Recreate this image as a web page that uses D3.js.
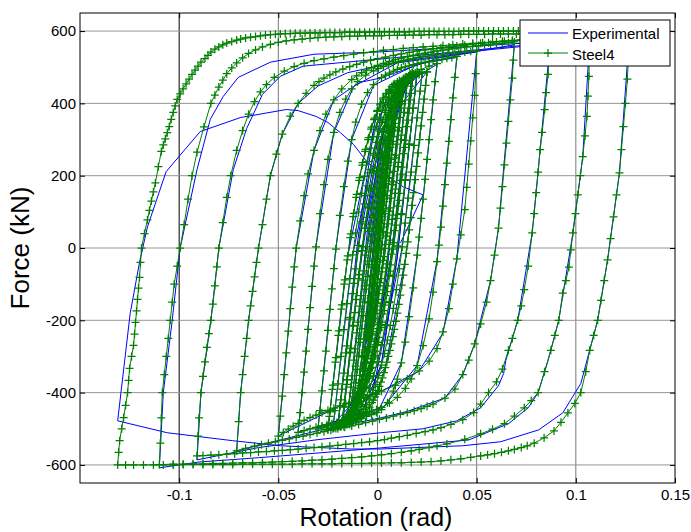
<!DOCTYPE html>
<html>
<head>
<meta charset="utf-8">
<script src="https://d3js.org/d3.v7.min.js"></script>
<style>
  body { margin: 0; background: #fff; }
  text { font-family: Arial, "Liberation Sans", sans-serif; }
</style>
</head>
<body>
<svg id="plot" width="691" height="532"></svg>
<script>
// tick values
const rotationTicks = [-0.1, -0.05, 0, 0.05, 0.1, 0.15];
const forceTicks = [-600, -400, -200, 0, 200, 400, 600];

// Steel4 model, one array per amplitude group, [rotation (rad), force (kN)]
const steel4Cyc005 = [[0,0],[0.001,50],[0.002,100],[0.003,148],[0.004,196],[0.005,243],
  [0.004,193],[0.003,143],[0.002,93],[0.001,43],[0,-7],[-0.001,-57],[-0.002,-106],[-0.003,-154],[-0.004,-200],[-0.005,-245],
  [-0.004,-195],[-0.003,-145],[-0.002,-95],[-0.001,-45],[0,5],[0.001,55],[0.002,104],[0.003,152],[0.004,200],[0.005,248],
  [0.004,198],[0.003,148],[0.002,98],[0.001,48],[0,-2],[-0.001,-52],[-0.002,-102],[-0.003,-151],[-0.004,-200],[-0.005,-248]];
const steel4Cyc0075 = [[-0.004,-198],[-0.003,-148],[-0.002,-98],[-0.001,-48],[0,2],[0.001,52],[0.002,101],[0.003,149],[0.004,195],[0.005,238],[0.006,278],[0.007,312],[0.0075,328],
  [0.0065,278],[0.0055,228],[0.0045,178],[0.0035,128],[0.0025,78],[0.0015,28],[0.0005,-22],[-0.0005,-72],[-0.0015,-121],[-0.0025,-168],[-0.0035,-213],[-0.0045,-254],[-0.0055,-290],[-0.0065,-317],[-0.0075,-332],
  [-0.0065,-282],[-0.0055,-232],[-0.0045,-182],[-0.0035,-132],[-0.0025,-82],[-0.0015,-32],[-0.0005,18],[0.0005,68],[0.0015,117],[0.0025,165],[0.0035,210],[0.0045,252],[0.0055,289],[0.0065,318],[0.0075,336],
  [0.0065,286],[0.0055,236],[0.0045,186],[0.0035,136],[0.0025,86],[0.0015,36],[0.0005,-14],[-0.0005,-64],[-0.0015,-114],[-0.0025,-162],[-0.0035,-208],[-0.0045,-250],[-0.0055,-288],[-0.0065,-318],[-0.0075,-338]];
const steel4Cyc010 = [[-0.0065,-288],[-0.0055,-238],[-0.0045,-188],[-0.0035,-138],[-0.0025,-88],[-0.0015,-38],[-0.0005,12],[0.0005,61],[0.0015,109],[0.0025,155],[0.0035,198],[0.0045,238],[0.0055,274],[0.0065,306],[0.0075,334],[0.0085,360],[0.01,395],
  [0.009,345],[0.008,295],[0.007,245],[0.006,195],[0.005,145],[0.004,95],[0.003,45],[0.002,-5],[0.001,-55],[0,-104],[-0.001,-151],[-0.002,-196],[-0.003,-237],[-0.004,-273],[-0.005,-305],[-0.006,-332],[-0.007,-355],[-0.008,-374],[-0.009,-389],[-0.01,-402],
  [-0.009,-352],[-0.008,-302],[-0.007,-252],[-0.006,-202],[-0.005,-152],[-0.004,-102],[-0.003,-52],[-0.002,-3],[-0.001,45],[0,92],[0.001,137],[0.002,180],[0.003,220],[0.004,256],[0.005,289],[0.006,318],[0.007,343],[0.008,366],[0.009,388],[0.01,408],
  [0.009,358],[0.008,308],[0.007,258],[0.006,208],[0.005,158],[0.004,108],[0.003,58],[0.002,9],[0.001,-39],[0,-86],[-0.001,-131],[-0.002,-174],[-0.003,-214],[-0.004,-251],[-0.005,-285],[-0.006,-315],[-0.007,-341],[-0.008,-364],[-0.009,-387],[-0.01,-410]];
const steel4Cyc0125 = [[-0.00925,-373],[-0.00775,-298],[-0.00625,-223],[-0.00475,-149],[-0.00325,-76],[-0.00175,-7],[-0.00025,60],[0.00125,122],[0.00275,180],[0.00425,233],[0.00575,280],[0.00725,322],[0.00875,360],[0.01025,393],[0.0115,418],[0.0125,436],
  [0.01175,399],[0.01025,324],[0.00875,249],[0.00725,175],[0.00575,102],[0.00425,33],[0.00275,-34],[0.00125,-96],[-0.00025,-154],[-0.00175,-207],[-0.00325,-254],[-0.00475,-296],[-0.00625,-334],[-0.00775,-367],[-0.00925,-396],[-0.01075,-426],[-0.0125,-448],
  [-0.01175,-411],[-0.01025,-336],[-0.00875,-261],[-0.00725,-187],[-0.00575,-114],[-0.00425,-45],[-0.00275,22],[-0.00125,84],[0.00025,142],[0.00175,195],[0.00325,242],[0.00475,284],[0.00625,322],[0.00775,355],[0.00925,384],[0.01075,414],[0.0125,436],
  [0.011,361],[0.0095,287],[0.008,212],[0.0065,138],[0.005,67],[0.0035,-1],[0.002,-66],[0.0005,-126],[-0.001,-181],[-0.0025,-231],[-0.004,-276],[-0.0055,-316],[-0.007,-351],[-0.0085,-382],[-0.01,-410],[-0.0115,-434],[-0.0125,-448]];
const steel4Cyc015 = [[-0.011,-373],[-0.0095,-299],[-0.008,-224],[-0.0065,-150],[-0.005,-79],[-0.0035,-11],[-0.002,54],[-0.0005,114],[0.001,169],[0.0025,219],[0.004,264],[0.0055,304],[0.007,339],[0.0085,370],[0.01,398],[0.0115,422],[0.013,441],[0.015,458],
  [0.0135,375],[0.012,300],[0.0105,225],[0.009,151],[0.0075,79],[0.006,10],[0.0045,-55],[0.003,-116],[0.0015,-172],[0,-223],[-0.0015,-268],[-0.003,-307],[-0.0045,-340],[-0.006,-368],[-0.0075,-392],[-0.009,-413],[-0.0105,-430],[-0.012,-443],[-0.0135,-453],[-0.015,-460],
  [-0.0135,-385],[-0.012,-310],[-0.0105,-235],[-0.009,-161],[-0.0075,-89],[-0.006,-20],[-0.0045,46],[-0.003,107],[-0.0015,163],[0,214],[0.0015,259],[0.003,298],[0.0045,332],[0.006,361],[0.0075,386],[0.009,407],[0.0105,425],[0.012,440],[0.0135,452],[0.015,462],
  [0.0135,387],[0.012,312],[0.0105,237],[0.009,163],[0.0075,91],[0.006,22],[0.0045,-44],[0.003,-105],[0.0015,-161],[0,-212],[-0.0015,-258],[-0.003,-298],[-0.0045,-333],[-0.006,-363],[-0.0075,-389],[-0.009,-411],[-0.0105,-429],[-0.012,-444],[-0.0135,-456],[-0.015,-466]];
const steel4Cyc0175 = [[-0.01425,-429],[-0.01275,-354],[-0.01125,-279],[-0.00975,-205],[-0.00825,-132],[-0.00675,-63],[-0.00525,4],[-0.00375,66],[-0.00225,124],[-0.00075,177],[0.00075,224],[0.00225,266],[0.00375,304],[0.00525,337],[0.00675,366],[0.00825,396],[0.01,422],[0.012,442],[0.014,461],[0.016,476],[0.0175,485],
  [0.016,410],[0.0145,336],[0.013,261],[0.0115,187],[0.01,116],[0.0085,48],[0.007,-17],[0.0055,-77],[0.004,-132],[0.0025,-182],[0.001,-227],[-0.0005,-267],[-0.002,-302],[-0.0035,-333],[-0.005,-361],[-0.0065,-385],[-0.008,-406],[-0.0095,-423],[-0.011,-438],[-0.0125,-450],[-0.014,-461],[-0.0155,-470],[-0.0175,-477],
  [-0.01675,-440],[-0.01525,-365],[-0.01375,-290],[-0.01225,-216],[-0.01075,-143],[-0.00925,-74],[-0.00775,-7],[-0.00625,55],[-0.00475,113],[-0.00325,166],[-0.00175,213],[-0.00025,255],[0.00125,293],[0.00275,326],[0.00425,355],[0.00575,381],[0.00725,404],[0.00875,422],[0.01025,438],[0.01175,452],[0.01325,463],[0.01475,473],[0.01625,480],[0.0175,485],
  [0.01675,448],[0.01525,373],[0.01375,298],[0.01225,224],[0.01075,151],[0.00925,82],[0.00775,15],[0.00625,-47],[0.00475,-105],[0.00325,-158],[0.00175,-205],[0.00025,-247],[-0.00125,-285],[-0.00275,-318],[-0.00425,-347],[-0.00575,-373],[-0.00725,-396],[-0.00875,-414],[-0.01025,-430],[-0.01175,-444],[-0.01325,-455],[-0.01475,-465],[-0.01625,-472],[-0.0175,-477]];
const steel4Cyc020 = [[-0.0155,-377],[-0.0135,-277],[-0.0115,-179],[-0.0095,-85],[-0.0075,4],[-0.0055,85],[-0.0035,158],[-0.0015,221],[0.0005,275],[0.0025,321],[0.0045,360],[0.0065,393],[0.0085,420],[0.0105,441],[0.0125,458],[0.0145,471],[0.0165,481],[0.02,487],
  [0.018,387],[0.016,287],[0.014,187],[0.012,92],[0.010,3],[0.008,-78],[0.006,-151],[0.004,-215],[0.002,-269],[0,-315],[-0.002,-355],[-0.004,-388],[-0.006,-414],[-0.008,-434],[-0.010,-450],[-0.012,-463],[-0.014,-472],[-0.016,-480],[-0.018,-485],[-0.02,-490],
  [-0.018,-390],[-0.016,-290],[-0.014,-192],[-0.012,-98],[-0.010,-9],[-0.008,72],[-0.006,145],[-0.004,208],[-0.002,262],[0,308],[0.002,347],[0.004,380],[0.006,407],[0.008,428],[0.010,445],[0.012,458],[0.014,468],[0.016,476],[0.018,482],[0.02,487],
  [0.018,387],[0.016,287],[0.014,189],[0.012,95],[0.010,6],[0.008,-75],[0.006,-148],[0.004,-212],[0.002,-267],[0,-314],[-0.002,-354],[-0.004,-388],[-0.006,-416],[-0.008,-438],[-0.010,-455],[-0.012,-468],[-0.014,-477],[-0.016,-484],[-0.018,-490],[-0.02,-495]];
const steel4Cyc025 = [[-0.0185,-420],[-0.017,-346],[-0.0155,-271],[-0.014,-197],[-0.0125,-126],[-0.011,-58],[-0.0095,7],[-0.008,67],[-0.0065,122],[-0.005,172],[-0.0035,217],[-0.002,257],[-0.0005,292],[0.001,323],[0.0025,351],[0.004,375],[0.0055,396],[0.007,413],[0.009,432],[0.011,446],[0.013,457],[0.015,465],[0.018,473],[0.021,480],[0.025,487],
  [0.0235,412],[0.022,338],[0.0205,263],[0.019,189],[0.0175,118],[0.016,50],[0.0145,-15],[0.013,-75],[0.0115,-130],[0.010,-180],[0.0085,-225],[0.007,-265],[0.0055,-300],[0.004,-331],[0.0025,-359],[0.001,-383],[-0.0005,-404],[-0.002,-421],[-0.004,-440],[-0.006,-454],[-0.008,-465],[-0.010,-473],[-0.013,-481],[-0.016,-487],[-0.019,-493],[-0.022,-498],[-0.025,-503],
  [-0.02425,-466],[-0.02275,-391],[-0.02125,-316],[-0.01975,-242],[-0.01825,-169],[-0.01675,-100],[-0.01525,-33],[-0.01375,29],[-0.01225,87],[-0.01075,140],[-0.00925,187],[-0.00775,229],[-0.00625,267],[-0.00475,300],[-0.00325,329],[-0.00175,355],[-0.00025,378],[0.00125,396],[0.00275,412],[0.00425,426],[0.00575,437],[0.00725,447],[0.00875,454],[0.011,463],[0.014,472],[0.017,478],[0.021,483],[0.025,487],
  [0.02425,450],[0.02275,375],[0.02125,300],[0.01975,226],[0.01825,153],[0.01675,84],[0.01525,17],[0.01375,-45],[0.01225,-103],[0.01075,-156],[0.00925,-203],[0.00775,-245],[0.00625,-283],[0.00475,-316],[0.00325,-345],[0.00175,-371],[0.00025,-394],[-0.00125,-412],[-0.00275,-428],[-0.00425,-442],[-0.00575,-453],[-0.00725,-463],[-0.00875,-470],[-0.011,-479],[-0.014,-488],[-0.017,-494],[-0.021,-499],[-0.025,-503]];
const steel4CycDecay = [[-0.024,-453],[-0.0225,-379],[-0.021,-303],[-0.0195,-229],[-0.018,-157],[-0.0165,-88],[-0.015,-22],[-0.0135,39],[-0.012,96],[-0.0105,148],[-0.009,195],[-0.0075,236],[-0.006,273],[-0.0045,305],[-0.003,334],[-0.0015,359],[0,381],[0.0015,399],[0.003,415],[0.0045,428],[0.006,439],[0.008,452],[0.010,459],[0.013,469],[0.016,476],[0.019,480],[0.0225,484],
  [0.0215,434],[0.020,360],[0.0185,284],[0.017,210],[0.0155,138],[0.014,69],[0.0125,3],[0.011,-58],[0.0095,-115],[0.008,-167],[0.0065,-214],[0.005,-255],[0.0035,-292],[0.002,-324],[0.0005,-353],[-0.001,-378],[-0.0025,-400],[-0.004,-418],[-0.0055,-434],[-0.007,-447],[-0.0085,-458],[-0.0105,-471],[-0.0125,-478],[-0.0155,-488],[-0.0185,-495],[-0.0225,-500],
  [-0.0215,-450],[-0.020,-376],[-0.0185,-300],[-0.017,-226],[-0.0155,-154],[-0.014,-85],[-0.0125,-19],[-0.011,42],[-0.0095,99],[-0.008,151],[-0.0065,198],[-0.005,239],[-0.0035,276],[-0.002,308],[-0.0005,337],[0.001,362],[0.0025,384],[0.004,402],[0.0055,418],[0.007,431],[0.009,445],[0.011,456],[0.0135,466],[0.016,474],[0.018,478],
  [0.017,428],[0.0155,354],[0.014,278],[0.0125,204],[0.011,132],[0.0095,63],[0.008,-3],[0.0065,-64],[0.005,-121],[0.0035,-173],[0.002,-220],[0.0005,-261],[-0.001,-298],[-0.0025,-330],[-0.004,-359],[-0.0055,-384],[-0.007,-406],[-0.0085,-424],[-0.010,-440],[-0.0115,-453],[-0.013,-464],[-0.015,-477],[-0.018,-488],
  [-0.017,-438],[-0.0155,-364],[-0.014,-288],[-0.0125,-214],[-0.011,-142],[-0.0095,-73],[-0.008,-7],[-0.0065,54],[-0.005,111],[-0.0035,163],[-0.002,210],[-0.0005,251],[0.001,288],[0.0025,320],[0.004,349],[0.0055,374],[0.007,396],[0.0085,414],[0.010,430],[0.0115,443],[0.0135,457],
  [0.0125,407],[0.011,333],[0.0095,257],[0.008,183],[0.0065,111],[0.005,42],[0.0035,-24],[0.002,-85],[0.0005,-142],[-0.001,-194],[-0.0025,-241],[-0.004,-282],[-0.0055,-319],[-0.007,-351],[-0.0085,-380],[-0.010,-405],[-0.0115,-427],[-0.0135,-451]];
const steel4Cyc030 = [[-0.0125,-401],[-0.011,-327],[-0.0095,-251],[-0.008,-177],[-0.0065,-105],[-0.005,-36],[-0.0035,30],[-0.002,91],[-0.0005,148],[0.001,200],[0.0025,247],[0.004,288],[0.0055,325],[0.007,357],[0.0085,386],[0.010,411],[0.012,436],[0.014,455],[0.016,470],[0.019,484],[0.022,494],[0.026,503],[0.03,510],
  [0.029,460],[0.028,410],[0.027,355],[0.026,300],[0.025,245],[0.024,190],[0.023,135],[0.022,82],[0.021,30],[0.020,-20],[0.018,-110],[0.016,-190],[0.014,-260],[0.012,-318],[0.010,-363],[0.008,-396],[0.005,-428],[0.002,-447],[-0.0005,-455],[-0.003,-461],[-0.0055,-466],[-0.008,-471],[-0.0105,-475],[-0.013,-478],[-0.0155,-481],[-0.018,-484],[-0.0205,-487],[-0.023,-489],[-0.0255,-492],[-0.028,-496],[-0.03,-500]];
const steel4Cyc040 = [[-0.029,-450],[-0.028,-395],[-0.027,-340],[-0.026,-285],[-0.025,-228],[-0.024,-170],[-0.023,-113],[-0.022,-57],[-0.021,-3],[-0.019,90],[-0.017,170],[-0.015,240],[-0.013,300],[-0.011,348],[-0.008,398],[-0.005,430],[-0.002,452],[0.002,471],[0.004,478],[0.006,484],[0.008,489],[0.010,494],[0.012,498],[0.014,501],[0.016,504],[0.018,507],[0.020,510],[0.022,512],[0.024,514],[0.026,516],[0.028,518],[0.030,520],[0.0325,522],[0.035,525],[0.0375,527],[0.04,530],
  [0.039,472],[0.038,415],[0.037,355],[0.036,295],[0.035,235],[0.034,175],[0.033,116],[0.032,58],[0.031,8],[0.030,-38],[0.028,-122],[0.026,-196],[0.023,-270],[0.020,-325],[0.017,-362],[0.014,-388],[0.010,-413],[0.006,-429],[0.002,-441],[-0.0005,-447],[-0.003,-453],[-0.0055,-458],[-0.008,-463],[-0.0105,-468],[-0.013,-472],[-0.0155,-476],[-0.018,-479],[-0.0205,-483],[-0.023,-486],[-0.0255,-489],[-0.028,-492],[-0.031,-496],[-0.034,-500],[-0.037,-505],[-0.04,-510]];
const steel4Cyc050 = [[-0.039,-455],[-0.038,-400],[-0.037,-343],[-0.036,-285],[-0.035,-225],[-0.034,-165],[-0.033,-106],[-0.032,-50],[-0.031,3],[-0.029,95],[-0.027,175],[-0.025,245],[-0.022,320],[-0.019,375],[-0.016,412],[-0.013,440],[-0.010,460],[-0.006,478],[-0.002,490],[0.0005,496],[0.003,502],[0.0055,507],[0.008,511],[0.0105,515],[0.013,518],[0.0155,521],[0.018,524],[0.0205,527],[0.023,529],[0.0255,531],[0.028,533],[0.0305,535],[0.033,536],[0.0355,538],[0.038,539],[0.041,541],[0.044,542],[0.047,544],[0.05,545],
  [0.0495,482],[0.049,422],[0.048,360],[0.047,296],[0.046,232],[0.045,168],[0.044,106],[0.042,36],[0.040,-30],[0.038,-100],[0.036,-168],[0.033,-232],[0.030,-278],[0.026,-313],[0.021,-340],[0.015,-362],[0.009,-380],[0.002,-396],[-0.001,-402],[-0.004,-408],[-0.007,-414],[-0.010,-420],[-0.013,-426],[-0.016,-431],[-0.019,-437],[-0.022,-443],[-0.025,-449],[-0.028,-456],[-0.031,-462],[-0.034,-469],[-0.037,-477],[-0.040,-485],[-0.0425,-493],[-0.045,-501],[-0.0475,-510],[-0.05,-520]];
const steel4Cyc070 = [[-0.049,-465],[-0.048,-410],[-0.047,-350],[-0.046,-290],[-0.045,-230],[-0.044,-168],[-0.043,-108],[-0.042,-52],[-0.041,0],[-0.039,75],[-0.037,145],[-0.035,205],[-0.032,270],[-0.029,325],[-0.026,370],[-0.022,410],[-0.018,440],[-0.013,466],[-0.0105,476],[-0.008,485],[-0.0055,492],[-0.003,499],[0,505],[0.003,511],[0.006,516],[0.009,521],[0.012,525],[0.015,529],[0.018,533],[0.021,536],[0.024,539],[0.027,542],[0.030,545],[0.033,547],[0.036,550],[0.039,552],[0.042,554],[0.045,556],[0.048,558],[0.051,560],[0.054,562],[0.057,563],[0.060,565],[0.063,567],[0.066,568],[0.069,570],
  [0.0685,520],[0.068,470],[0.067,410],[0.066,350],[0.065,290],[0.064,230],[0.063,170],[0.062,110],[0.061,55],[0.059,-20],[0.057,-90],[0.055,-150],[0.052,-210],[0.049,-265],[0.046,-310],[0.043,-350],[0.039,-390],[0.034,-415],[0.028,-432],[0.025,-438],[0.022,-444],[0.0185,-450],[0.015,-455],[0.0115,-460],[0.008,-465],[0.0045,-470],[0.001,-474],[-0.0025,-479],[-0.006,-483],[-0.0095,-488],[-0.013,-492],[-0.0165,-496],[-0.020,-500],[-0.0235,-504],[-0.027,-508],[-0.0305,-512],[-0.034,-516],[-0.0375,-520],[-0.041,-524],[-0.0445,-528],[-0.048,-532],[-0.0515,-536],[-0.055,-540],[-0.0585,-544],[-0.062,-548],[-0.0665,-554],[-0.071,-561]];
const steel4Cyc090 = [[-0.070,-480],[-0.069,-400],[-0.068,-350],[-0.067,-300],[-0.066,-250],[-0.065,-200],[-0.064,-160],[-0.063,-120],[-0.062,-80],[-0.061,-40],[-0.060,0],[-0.058,65],[-0.056,135],[-0.054,200],[-0.051,260],[-0.048,315],[-0.044,365],[-0.040,400],[-0.036,428],[-0.032,450],[-0.0295,460],[-0.027,470],[-0.024,479],[-0.021,487],[-0.0175,495],[-0.014,502],[-0.0105,508],[-0.007,514],[-0.0035,519],[0,524],[0.004,528],[0.008,533],[0.012,537],[0.016,541],[0.020,545],[0.024,548],[0.028,551],[0.032,554],[0.036,556],[0.040,559],[0.044,561],[0.048,564],[0.052,566],[0.056,568],[0.060,570],[0.064,572],[0.068,573],[0.072,575],[0.076,576],[0.080,578],[0.084,579],[0.087,580],
  [0.0865,530],[0.086,480],[0.085,430],[0.0843,383],[0.083,320],[0.082,272],[0.081,210],[0.080,153],[0.079,95],[0.078,42],[0.076,-50],[0.074,-115],[0.0725,-160],[0.0707,-200],[0.068,-250],[0.066,-283],[0.063,-335],[0.060,-370],[0.056,-400],[0.052,-432],[0.0485,-455],[0.043,-475],[0.037,-488],[0.032,-497],[0.028,-503],[0.024,-508],[0.0195,-513],[0.015,-518],[0.011,-522],[0.007,-526],[0.0035,-530],[0,-533],[-0.004,-536],[-0.008,-538],[-0.012,-541],[-0.016,-543],[-0.020,-546],[-0.024,-548],[-0.028,-550],[-0.032,-552],[-0.036,-554],[-0.040,-556],[-0.044,-558],[-0.048,-560],[-0.052,-561],[-0.056,-563],[-0.060,-564],[-0.064,-566],[-0.068,-567],[-0.072,-569],[-0.076,-570],[-0.080,-572],[-0.084,-573],[-0.088,-574],[-0.091,-575]];
const steel4Cyc110 = [[-0.0905,-520],[-0.090,-470],[-0.089,-400],[-0.088,-355],[-0.087,-315],[-0.086,-275],[-0.085,-237],[-0.084,-200],[-0.083,-155],[-0.082,-105],[-0.081,-52],[-0.080,0],[-0.078,70],[-0.076,140],[-0.074,200],[-0.071,270],[-0.068,325],[-0.065,370],[-0.062,405],[-0.059,432],[-0.056,452],[-0.052,472],[-0.047,489],[-0.042,502],[-0.037,511],[-0.032,518],[-0.027,523],[-0.022,528],[-0.017,532],[-0.012,536],[-0.007,540],[-0.002,543],[0.003,547],[0.008,549],[0.013,552],[0.018,554],[0.023,556],[0.028,558],[0.033,560],[0.038,562],[0.043,564],[0.048,566],[0.053,568],[0.058,570],[0.063,572],[0.068,574],[0.073,576],[0.078,577],[0.083,579],[0.088,581],[0.093,583],[0.098,585],[0.103,586],[0.107,588],
  [0.1068,530],[0.1066,475],[0.1061,420],[0.1056,364],[0.1046,310],[0.1035,253],[0.1023,200],[0.101,147],[0.0998,95],[0.0985,42],[0.0975,-5],[0.0965,-53],[0.0950,-90],[0.0934,-125],[0.0914,-200],[0.0894,-242],[0.0874,-283],[0.0842,-342],[0.081,-400],[0.0775,-422],[0.074,-442],[0.069,-465],[0.064,-486],[0.058,-501],[0.052,-514],[0.044,-529],[0.035,-542],[0.030,-547],[0.026,-552],[0.021,-557],[0.017,-561],[0.012,-565],[0.007,-569],[0.002,-572],[-0.003,-575],[-0.008,-578],[-0.013,-580],[-0.018,-582],[-0.023,-584],[-0.028,-586],[-0.033,-587],[-0.038,-589],[-0.043,-590],[-0.048,-591],[-0.053,-592],[-0.058,-593],[-0.063,-594],[-0.068,-594],[-0.073,-595],[-0.078,-596],[-0.083,-596],[-0.088,-597],[-0.093,-597],[-0.098,-598],[-0.103,-598],[-0.110,-599]];
const steel4Cyc130 = [[-0.1095,-540],[-0.109,-470],[-0.1085,-400],[-0.1075,-350],[-0.1065,-300],[-0.1055,-250],[-0.1045,-200],[-0.1035,-150],[-0.1025,-100],[-0.1010,-50],[-0.0995,0],[-0.0975,65],[-0.0955,135],[-0.0935,200],[-0.091,265],[-0.0875,335],[-0.084,400],[-0.082,423],[-0.080,445],[-0.078,464],[-0.076,482],[-0.0735,498],[-0.071,512],[-0.068,526],[-0.065,538],[-0.0615,548],[-0.058,556],[-0.054,563],[-0.050,569],[-0.046,573],[-0.042,576],[-0.038,578],[-0.034,580],[-0.030,582],[-0.026,583],[-0.022,584],[-0.018,585],[-0.014,586],[-0.010,586],[-0.006,587],[-0.002,587],[0.002,587],[0.006,588],[0.010,588],[0.014,589],[0.018,589],[0.022,589],[0.026,590],[0.030,590],[0.034,590],[0.038,590],[0.042,591],[0.046,591],[0.050,591],[0.054,591],[0.058,592],[0.062,592],[0.066,592],[0.070,592],[0.074,593],[0.078,593],[0.082,593],[0.086,593],[0.090,594],[0.094,594],[0.098,594],[0.102,594],[0.106,594],[0.110,594],[0.114,595],[0.118,595],[0.122,595],[0.127,595],
  [0.1265,530],[0.126,467],[0.125,400],[0.124,336],[0.123,272],[0.122,208],[0.1205,147],[0.119,86],[0.1175,26],[0.116,-33],[0.1143,-90],[0.1127,-145],[0.111,-200],[0.109,-242],[0.107,-283],[0.105,-342],[0.1025,-400],[0.0995,-430],[0.096,-456],[0.0925,-482],[0.089,-506],[0.084,-525],[0.079,-540],[0.0755,-547],[0.0725,-552],[0.069,-557],[0.066,-561],[0.0625,-565],[0.059,-569],[0.0555,-572],[0.052,-575],[0.047,-579],[0.042,-583],[0.037,-586],[0.032,-589],[0.027,-591],[0.022,-592],[0.017,-593],[0.012,-594],[0.007,-594],[0.002,-595],[-0.003,-595],[-0.008,-596],[-0.013,-596],[-0.018,-596],[-0.023,-597],[-0.028,-597],[-0.033,-597],[-0.038,-597],[-0.043,-598],[-0.048,-598],[-0.053,-598],[-0.058,-598],[-0.063,-598],[-0.068,-598],[-0.073,-599],[-0.078,-599],[-0.083,-599],[-0.088,-599],[-0.093,-599],[-0.098,-599],[-0.103,-600],[-0.108,-600],[-0.113,-600],[-0.118,-600],[-0.123,-600],[-0.127,-600],[-0.131,-600]];
const steel4Last = [[-0.1305,-565],[-0.130,-533],[-0.129,-500],[-0.128,-469],[-0.127,-435],[-0.126,-400],[-0.1255,-366],[-0.125,-333],[-0.124,-300],[-0.123,-269],[-0.1225,-238],[-0.122,-206],[-0.1215,-174],[-0.121,-142],[-0.1205,-111],[-0.120,-81],[-0.1195,-40],[-0.119,0],[-0.1175,40],[-0.116,78],[-0.115,104],[-0.114,130],[-0.113,155],[-0.112,180],[-0.1105,225],[-0.109,267],[-0.108,285],[-0.107,302],[-0.106,319],[-0.105,336],[-0.104,356],[-0.103,375],[-0.102,393],[-0.101,411],[-0.0995,426],[-0.098,440],[-0.0965,454],[-0.095,467],[-0.0935,480],[-0.092,492],[-0.0905,503],[-0.089,514],[-0.087,524],[-0.0855,533],[-0.084,542],[-0.082,550],[-0.080,556],[-0.078,562],[-0.076,567],[-0.0735,571],[-0.071,575],[-0.069,578],[-0.0665,581],[-0.064,583],[-0.0615,585],[-0.059,587],[-0.0565,589],[-0.054,590],[-0.0515,591],[-0.049,592],[-0.0465,593],[-0.044,593],[-0.0415,594],[-0.039,594],[-0.0365,594],[-0.034,595],[-0.0315,595],[-0.029,595],[-0.0265,596],[-0.024,596],[-0.0215,596],[-0.019,596],[-0.0165,597],[-0.014,597],[-0.0115,597],[-0.009,597],[-0.0065,597],[-0.004,597],[-0.0015,598],[0.001,598],[0.0035,598],[0.006,598],[0.0085,598],[0.011,598],[0.0135,598],[0.016,598],[0.0185,599],[0.021,599],[0.0235,599],[0.026,599],[0.0285,599],[0.031,599],[0.0335,599],[0.036,599],[0.0385,599],[0.041,599],[0.0435,600],[0.046,600],[0.0485,600],[0.051,600],[0.0535,600],[0.056,600],[0.0585,600],[0.061,600],[0.0635,600],[0.066,600],[0.0685,600],[0.071,600]];

// Experimental record, [rotation (rad), force (kN)]
const expSmall = [[0,0],[0.005,245],[-0.005,-245],[0.005,255],[-0.005,-255],[0.0075,330],[-0.0075,-335],[0.0075,340],[-0.0075,-340],
  [-0.002,10],[0.004,260],[0.01,405],[0.002,-5],[-0.004,-265],[-0.01,-408],[-0.002,10],[0.004,262],[0.01,410],[0.002,0],[-0.004,-262],[-0.01,-412],
  [-0.001,27],[0.005,257],[0.0125,436],[0.002,-66],[-0.004,-276],[-0.0125,-448],
  [-0.005,-79],[0.003,240],[0.015,458],[0.005,-50],[-0.003,-337],[-0.015,-462],[-0.005,52],[0.003,336],[0.015,462],[0.005,-48],[-0.003,-335],[-0.015,-466],
  [-0.006,-29],[0.003,286],[0.0175,485],[0.007,-17],[-0.002,-302],[-0.0175,-477],
  [-0.0095,-85],[-0.0015,221],[0.007,400],[0.02,484],[0.010,-25],[0.002,-322],[-0.007,-443],[-0.02,-492],[-0.010,18],[-0.002,320],[0.007,440],[0.02,487],[0.010,-22],[0.002,-320],[-0.007,-445],[-0.02,-495],
  [-0.0095,7],[0.001,323],[0.025,487],[0.0145,-15],[0.004,-331],[-0.025,-503],
  [-0.015,-22],[0,381],[0.0225,484],[0.0125,3],[-0.0025,-400],[-0.0225,-500],[-0.0125,-19],[0.0025,384],[0.018,478],[0.008,-3],[-0.007,-406],[-0.018,-488],[-0.008,-7],[0.004,349],[0.0135,457],[0.0035,-24],[-0.0085,-380],[-0.0135,-451]];
const expCyc030 = [[-0.005,-36],[0.004,288],[0.014,455],[0.03,508],[0.020,-20],[0.012,-318],[0,-455],[-0.03,-500]];
const expCyc040 = [[-0.021,0],[-0.013,300],[-0.002,450],[0.02,508],[0.04,527],[0.030,-35],[0.020,-325],[0.003,-440],[-0.04,-510]];
const expCyc050 = [[-0.031,5],[-0.022,320],[-0.012,447],[0.01,512],[0.05,542],[0.040,-30],[0.033,-235],[0.021,-340],[0.002,-396],[-0.02,-440],[-0.05,-520]];
const expCyc070 = [[-0.041,0],[-0.032,270],[-0.022,410],[-0.009,458],[0.0015,470],[0.03,525],[0.069,562],[0.061,55],[0.057,-90],[0.049,-265],[0.043,-350],[0.034,-415],[0.015,-452],[0.0015,-470],[-0.03,-505],[-0.071,-561]];
const expCyc090 = [[-0.069,-400],[-0.065,-200],[-0.060,0],[-0.054,200],[-0.048,315],[-0.040,400],[-0.030,448],[-0.015,485],[0.01,515],[0.05,545],[0.087,565],[0.082,272],[0.078,42],[0.0707,-200],[0.0647,-311],[0.0636,-347],[0.061,-381],[0.052,-442],[0.040,-478],[0.023,-500],[0.0015,-511],[-0.03,-530],[-0.06,-552],[-0.091,-586]];
const expCyc110 = [[-0.089,-400],[-0.084,-200],[-0.080,0],[-0.0727,217],[-0.066,330],[-0.058,425],[-0.049,475],[-0.0374,503],[0,522],[0.05,548],[0.107,578],[0.1035,253],[0.0985,40],[0.0914,-200],[0.086,-311],[0.081,-400],[0.076,-442],[0.066,-486],[0.046,-531],[0.0015,-553],[-0.03,-567],[-0.06,-580],[-0.09,-592],[-0.110,-608]];
const expCyc130 = [[-0.108,-400],[-0.1035,-200],[-0.0995,0],[-0.091,217],[-0.0843,356],[-0.0778,419],[-0.0702,472],[-0.054,514],[-0.032,536],[0,542],[0.048,558],[0.09,572],[0.127,590],[0.122,208],[0.116,-33],[0.111,-200],[0.1025,-375],[0.0934,-456],[0.0813,-503],[0.062,-536],[0.043,-547],[0.0015,-556],[-0.0136,-556],[-0.049,-547],[-0.073,-533],[-0.106,-511],[-0.125,-486],[-0.131,-478]];
const expLast = [[-0.1247,-181],[-0.120,-40],[-0.116,58],[-0.1066,211],[-0.0894,322],[-0.069,361],[-0.046,383],[-0.040,380],[-0.031,364],[-0.025,347],[-0.0187,319],[-0.012,286],[-0.005,236],[0.013,169],[0.023,147],[0.0116,14]];

const steel4 = [].concat(steel4Cyc005, steel4Cyc0075, steel4Cyc010, steel4Cyc0125, steel4Cyc015, steel4Cyc0175,
  steel4Cyc020, steel4Cyc025, steel4CycDecay, steel4Cyc030, steel4Cyc040, steel4Cyc050, steel4Cyc070,
  steel4Cyc090, steel4Cyc110, steel4Cyc130, steel4Last);
const experimental = [].concat(expSmall, expCyc030, expCyc040, expCyc050, expCyc070,
  expCyc090, expCyc110, expCyc130, expLast);

// plot box
var left = 80, right = 675, top_ = 13, bottom = 483;

var svg = d3.select("#plot");
svg.append("rect").attr("width", 691).attr("height", 532).attr("fill", "#fff");

var xScale = d3.scaleLinear().domain([-0.15, 0.15]).range([left, right]);
var yScale = d3.scaleLinear().domain([-650, 650]).range([bottom, top_]);

// grid
svg.append("g").selectAll("line")
  .data(rotationTicks.filter(function(d) { return d < 0.15; }))
  .enter().append("line")
  .attr("x1", function(d) { return xScale(d); })
  .attr("x2", function(d) { return xScale(d); })
  .attr("y1", top_).attr("y2", bottom)
  .attr("stroke", function(d) { return d == -0.1 ? "#000" : "#7a7a7a"; })
  .attr("stroke-width", 1);

svg.append("g").selectAll("line")
  .data(forceTicks)
  .enter().append("line")
  .attr("x1", left).attr("x2", right)
  .attr("y1", function(d) { return yScale(d); })
  .attr("y2", function(d) { return yScale(d); })
  .attr("stroke", "#969696")
  .attr("stroke-width", 1);

var line = d3.line()
  .x(function(d) { return xScale(d[0]); })
  .y(function(d) { return yScale(d[1]); });

var canvas = svg.append("g");

// experimental (blue)
canvas.append("path")
  .datum(experimental)
  .attr("d", line)
  .attr("fill", "none")
  .attr("stroke", "#0000ff")
  .attr("stroke-width", 1);

// Steel4 model (green, + markers)
canvas.append("path")
  .datum(steel4)
  .attr("d", line)
  .attr("fill", "none")
  .attr("stroke", "#008000")
  .attr("stroke-width", 1);

canvas.append("g").selectAll("path")
  .data(steel4)
  .enter().append("path")
  .attr("d", "M-4,0H4M0,-4V4")
  .attr("transform", function(d) { return "translate(" + xScale(d[0]) + "," + yScale(d[1]) + ")"; })
  .attr("stroke", "#008000")
  .attr("stroke-width", 1.25)
  .attr("fill", "none");

// axes, ticks pointing inwards
var fmt = function(d) { return String(d); };
svg.append("g")
  .attr("transform", "translate(0," + bottom + ")")
  .call(d3.axisBottom(xScale).tickValues(rotationTicks).tickSize(-5).tickPadding(6).tickFormat(fmt));
svg.append("g")
  .attr("transform", "translate(" + left + ",0)")
  .call(d3.axisLeft(yScale).tickValues(forceTicks).tickSize(-5).tickPadding(4).tickFormat(fmt));
svg.append("g")
  .attr("transform", "translate(0," + top_ + ")")
  .call(d3.axisTop(xScale).tickValues(rotationTicks).tickSize(-5).tickFormat(""));
svg.append("g")
  .attr("transform", "translate(" + right + ",0)")
  .call(d3.axisRight(yScale).tickValues(forceTicks).tickSize(-5).tickFormat(""));

svg.selectAll(".domain").remove();
svg.selectAll(".tick line").attr("stroke", "#000");
svg.selectAll(".tick text")
  .attr("fill", "#000")
  .style("font-size", "15px")
  .style("font-family", "Arial, 'Liberation Sans', sans-serif");

svg.append("rect")
  .attr("x", left).attr("y", top_)
  .attr("width", right - left).attr("height", bottom - top_)
  .attr("fill", "none").attr("stroke", "#000").attr("stroke-width", 1);

// axis labels
svg.append("text")
  .attr("x", 376).attr("y", 526)
  .attr("text-anchor", "middle")
  .style("font-size", "25px")
  .text("Rotation (rad)");

svg.append("text")
  .attr("transform", "translate(29,248) rotate(-90)")
  .attr("text-anchor", "middle")
  .style("font-size", "26px")
  .text("Force (kN)");

// legend
var legend = svg.append("g");
legend.append("rect")
  .attr("x", 520).attr("y", 20).attr("width", 150).attr("height", 46)
  .attr("fill", "#fff").attr("stroke", "#000").attr("stroke-width", 1);
legend.append("line")
  .attr("x1", 528).attr("x2", 568).attr("y1", 33).attr("y2", 33)
  .attr("stroke", "#0000ff").attr("stroke-width", 1);
legend.append("text").attr("x", 572).attr("y", 39)
  .style("font-size", "15px").text("Experimental");
legend.append("line")
  .attr("x1", 528).attr("x2", 568).attr("y1", 53).attr("y2", 53)
  .attr("stroke", "#008000").attr("stroke-width", 1);
legend.append("path")
  .attr("d", "M-4,0H4M0,-4V4")
  .attr("transform", "translate(548,53)")
  .attr("stroke", "#008000").attr("stroke-width", 1.25).attr("fill", "none");
legend.append("text").attr("x", 572).attr("y", 60)
  .style("font-size", "15px").text("Steel4");
</script>
</body>
</html>
